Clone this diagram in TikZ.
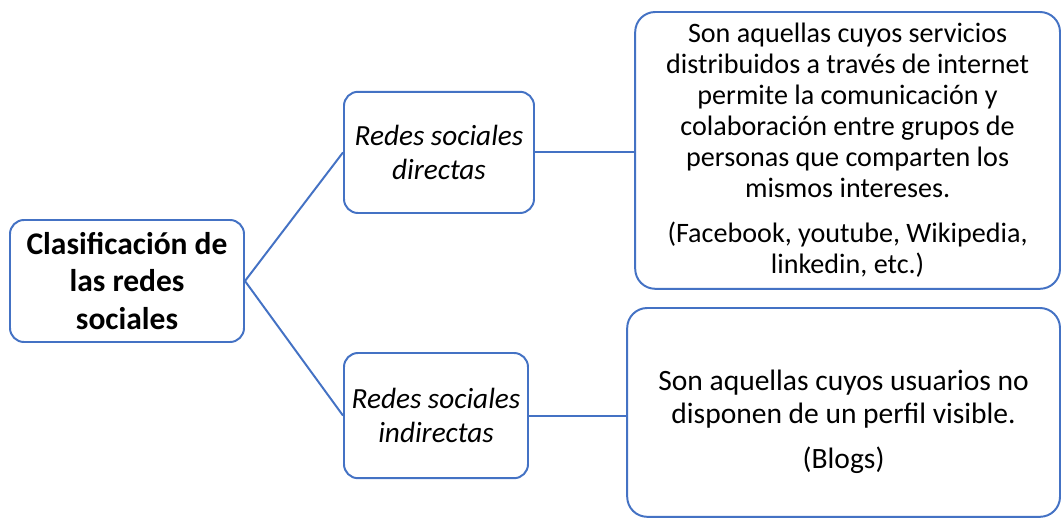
\documentclass[tikz,border=0pt]{standalone}
\usepackage{fontspec}
\setmainfont{Carlito}
\definecolor{boxblue}{HTML}{4472C4}

\begin{document}
\begin{tikzpicture}[
        box/.style={rectangle, rounded corners=0.35cm, draw=boxblue, line width=1.4pt, fill=white, align=center, inner sep=0pt},
        bigbox/.style={box, rounded corners=0.5cm},
        link/.style={draw=boxblue, line width=1.4pt},
        ]
        \useasboundingbox (0,0) rectangle (26.55,-12.95);

        % Nodes
        \node[box, minimum width=5.85cm, minimum height=3.05cm, font=\fontsize{22.4}{26.5}\selectfont\bfseries] (clasif) at (3.175,-7.025) {Clasificación de\\las redes\\sociales};
        \node[box, minimum width=4.75cm, minimum height=3.03cm, font=\fontsize{20.8}{24}\selectfont\itshape] (directas) at (10.975,-3.81) {Redes sociales\\directas};
        \node[box, minimum width=4.6cm, minimum height=3.13cm, font=\fontsize{20.8}{24}\selectfont\itshape] (indirectas) at (10.9,-10.39) {Redes sociales\\indirectas};

        % Descriptions
        \node[bigbox, minimum width=10.62cm, minimum height=6.92cm, font=\fontsize{20}{22}\selectfont] (dirdesc) at (21.19,-3.76) {Son aquellas cuyos servicios\\distribuidos a través de internet\\permite la comunicación y\\colaboración entre grupos de\\personas que comparten los\\mismos intereses.\\[10pt](Facebook, youtube, Wikipedia,\\linkedin, etc.)};
        \node[bigbox, minimum width=10.82cm, minimum height=5.22cm, font=\fontsize{21}{23.5}\selectfont] (indirdesc) at (21.09,-10.31) {\rule{0pt}{28pt}Son aquellas cuyos usuarios no\\disponen de un perfil visible.\\[8.5pt](Blogs)};

        % Connectors
        \draw[link] (clasif.east) -- (directas.west);
        \draw[link] (clasif.east) -- (indirectas.west);
        \draw[link] (directas.east) -- (directas.east -| dirdesc.west);
        \draw[link] (indirectas.east) -- (indirectas.east -| indirdesc.west);

    \end{tikzpicture}
\end{document}
